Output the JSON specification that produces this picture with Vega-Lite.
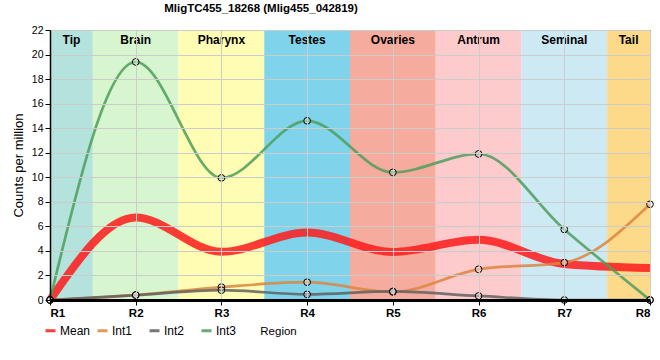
{
  "$schema": "https://vega.github.io/schema/vega-lite/v6.json",
  "width": 600,
  "height": 270,
  "autosize": {"type": "none"},
  "padding": {"left": 50, "top": 30, "right": 10, "bottom": 60},
  "config": {
    "font": "Liberation Sans",
    "view": {"stroke": "black", "strokeWidth": 1},
    "axisY": {
      "values": [0, 2, 4, 6, 8, 10, 12, 14, 16, 18, 20, 22],
      "labelOverlap": false,
      "labelFontSize": 10.5,
      "labelColor": "black",
      "labelPadding": 2,
      "tickSize": 5,
      "tickColor": "black",
      "domainColor": "black",
      "domainWidth": 1.5,
      "grid": true,
      "gridColor": "#cccccc",
      "titleFontSize": 13,
      "titleFontWeight": "normal",
      "titleColor": "black",
      "titlePadding": 6
    }
  },
  "title": {
    "text": "MligTC455_18268 (Mlig455_042819)",
    "font": "Liberation Sans",
    "fontSize": 11.5,
    "fontWeight": "bold",
    "color": "black",
    "anchor": "middle",
    "frame": "group",
    "dx": -89,
    "offset": 11
  },
  "datasets": {
    "regions": [
      {"name": "Tip", "start": 1, "end": 1.5, "mid": 1.25, "fill": "#b3e3dc"},
      {"name": "Brain", "start": 1.5, "end": 2.5, "mid": 2, "fill": "#d7f5cf"},
      {"name": "Pharynx", "start": 2.5, "end": 3.5, "mid": 3, "fill": "#fffcb3"},
      {"name": "Testes", "start": 3.5, "end": 4.5, "mid": 4, "fill": "#7fd3ea"},
      {"name": "Ovaries", "start": 4.5, "end": 5.5, "mid": 5, "fill": "#f5ab9e"},
      {"name": "Antrum", "start": 5.5, "end": 6.5, "mid": 6, "fill": "#fecbcc"},
      {"name": "Seminal", "start": 6.5, "end": 7.5, "mid": 7, "fill": "#cdeaf4"},
      {"name": "Tail", "start": 7.5, "end": 8, "mid": 7.75, "fill": "#fdd98a"}
    ],
    "expr": [
      {"region": 1, "series": "Mean", "value": 0},
      {"region": 2, "series": "Mean", "value": 6.73},
      {"region": 3, "series": "Mean", "value": 3.93},
      {"region": 4, "series": "Mean", "value": 5.5},
      {"region": 5, "series": "Mean", "value": 3.92},
      {"region": 6, "series": "Mean", "value": 4.91},
      {"region": 7, "series": "Mean", "value": 2.93},
      {"region": 8, "series": "Mean", "value": 2.6},
      {"region": 1, "series": "Int1", "value": 0},
      {"region": 2, "series": "Int1", "value": 0.4},
      {"region": 3, "series": "Int1", "value": 1.05},
      {"region": 4, "series": "Int1", "value": 1.45},
      {"region": 5, "series": "Int1", "value": 0.65},
      {"region": 6, "series": "Int1", "value": 2.5},
      {"region": 7, "series": "Int1", "value": 3.05},
      {"region": 8, "series": "Int1", "value": 7.8},
      {"region": 1, "series": "Int2", "value": 0},
      {"region": 2, "series": "Int2", "value": 0.4},
      {"region": 3, "series": "Int2", "value": 0.8},
      {"region": 4, "series": "Int2", "value": 0.46},
      {"region": 5, "series": "Int2", "value": 0.7},
      {"region": 6, "series": "Int2", "value": 0.33},
      {"region": 7, "series": "Int2", "value": 0},
      {"region": 8, "series": "Int2", "value": 0},
      {"region": 1, "series": "Int3", "value": 0},
      {"region": 2, "series": "Int3", "value": 19.4},
      {"region": 3, "series": "Int3", "value": 9.95},
      {"region": 4, "series": "Int3", "value": 14.6},
      {"region": 5, "series": "Int3", "value": 10.4},
      {"region": 6, "series": "Int3", "value": 11.9},
      {"region": 7, "series": "Int3", "value": 5.75},
      {"region": 8, "series": "Int3", "value": 0}
    ]
  },
  "layer": [
    {
      "data": {"name": "regions"},
      "mark": {"type": "rect"},
      "encoding": {
        "x": {
          "field": "start",
          "type": "quantitative",
          "title": "Region",
          "scale": {"domain": [1, 8], "nice": false, "zero": false},
          "axis": {
            "values": [1, 2, 3, 4, 5, 6, 7, 8],
            "labelExpr": "'R' + datum.value",
            "labelFontWeight": "bold",
            "labelFontSize": 11.5,
            "labelColor": "black",
            "labelPadding": 2,
            "labelOverlap": false,
            "tickSize": 5,
            "tickColor": "black",
            "domainColor": "black",
            "domainWidth": 3,
            "grid": true,
            "gridColor": "#cccccc",
            "zindex": 1,
            "titleFontSize": 11.5,
            "titleFontWeight": "normal",
            "titleColor": "black",
            "titleX": 228,
            "titleY": 31,
            "titleBaseline": "middle",
            "titleAlign": "center"
          }
        },
        "x2": {"field": "end"},
        "fill": {"field": "fill", "type": "nominal", "scale": null}
      }
    },
    {
      "data": {"name": "expr"},
      "mark": {"type": "line", "interpolate": "monotone", "opacity": 0.85},
      "encoding": {
        "x": {"field": "region", "type": "quantitative", "title": "Region"},
        "y": {
          "field": "value",
          "type": "quantitative",
          "title": "Counts per million",
          "scale": {"domain": [0, 22], "nice": false},
          "axis": {"zindex": 1}
        },
        "color": {
          "field": "series",
          "type": "nominal",
          "scale": {
            "domain": ["Mean", "Int1", "Int2", "Int3"],
            "range": ["#ff1a1a", "#dd8540", "#606060", "#4e9e5c"]
          },
          "legend": {
            "title": null,
            "orient": "none",
            "direction": "horizontal",
            "legendX": -6,
            "legendY": 294,
            "gridAlign": "all",
            "symbolType": "stroke",
            "symbolSize": 100,
            "symbolStrokeWidth": 3,
            "labelFontSize": 12,
            "labelOffset": 3,
            "columnPadding": 0,
            "encode": {
              "symbols": {"update": {"strokeWidth": {"signal": "datum.value === 'Mean' ? 7 : 3"}, "strokeCap": {"value": "butt"}, "opacity": {"value": 0.85}}},
              "labels": {"update": {"fill": {"signal": "scale('color', datum.value)"}, "opacity": {"value": 0.85}}}
            }
          }
        },
        "strokeWidth": {
          "condition": {"test": "datum.series === 'Mean'", "value": 8},
          "value": 2.7
        }
      }
    },
    {
      "data": {"name": "regions"},
      "mark": {"type": "text", "fontWeight": "bold", "fontSize": 12, "color": "black", "baseline": "middle"},
      "encoding": {
        "x": {"field": "mid", "type": "quantitative", "title": "Region"},
        "y": {"datum": 21.2, "type": "quantitative", "title": "Counts per million", "axis": {"zindex": 1}},
        "text": {"field": "name"}
      }
    },
    {
      "data": {"name": "expr"},
      "transform": [{"filter": "datum.series !== 'Mean'"}],
      "mark": {"type": "circle", "size": 45, "fill": "white", "fillOpacity": 0.35, "stroke": "black", "strokeWidth": 1, "strokeOpacity": 1},
      "encoding": {
        "x": {"field": "region", "type": "quantitative", "title": "Region"},
        "y": {"field": "value", "type": "quantitative", "title": "Counts per million", "axis": {"zindex": 1}}
      }
    }
  ]
}
